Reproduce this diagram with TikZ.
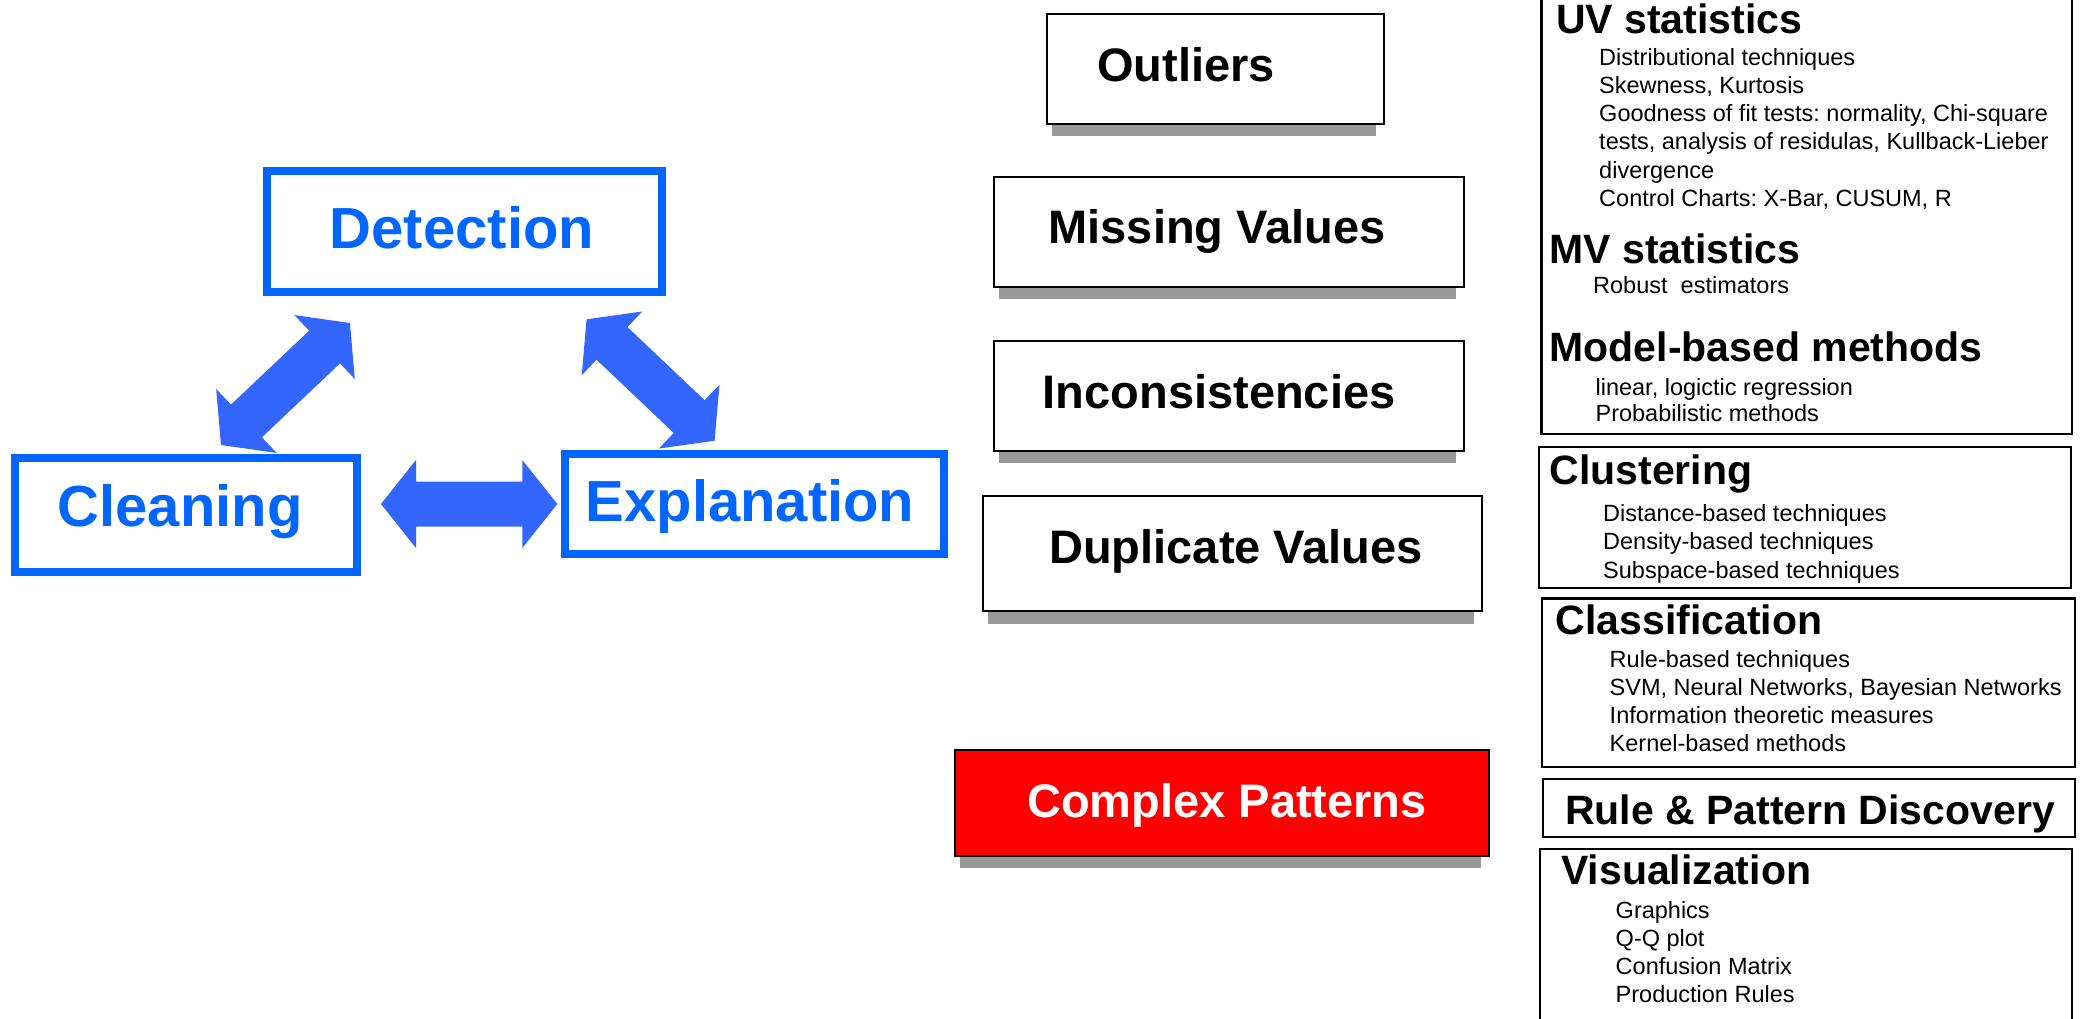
\documentclass[tikz,border=0pt]{standalone}
\usepackage{fontspec}
\setmainfont{Liberation Sans}
\usepackage{tikz}
\usetikzlibrary{calc}
\frenchspacing

\definecolor{boxblue}{HTML}{0066FF}
\definecolor{arrowblue}{HTML}{3366FF}
\definecolor{shadegray}{HTML}{999999}

\newcommand{\fatarrow}[2]{%
  \fill[arrowblue] (#1)
    -- ($(#1)!35pt!(#2)!44pt!90:(#2)$)
    -- ($(#1)!35pt!(#2)!22.5pt!90:(#2)$)
    -- ($(#2)!35pt!(#1)!22.5pt!-90:(#1)$)
    -- ($(#2)!35pt!(#1)!44pt!-90:(#1)$)
    -- (#2)
    -- ($(#2)!35pt!(#1)!44pt!90:(#1)$)
    -- ($(#2)!35pt!(#1)!22.5pt!90:(#1)$)
    -- ($(#1)!35pt!(#2)!22.5pt!-90:(#2)$)
    -- ($(#1)!35pt!(#2)!44pt!-90:(#2)$)
    -- cycle;}

\tikzset{
  bluebox/.style={draw=boxblue,line width=8pt,fill=white},
  bluelabel/.style={font=\fontsize{58}{58}\selectfont\bfseries,text=boxblue,anchor=base,inner sep=0pt},
  plainbox/.style={draw=black,line width=2pt,fill=white},
  redbox/.style={plainbox,fill=red},
  midlabel/.style={font=\fontsize{47}{47}\selectfont\bfseries,anchor=base,inner sep=0pt},
  rbox/.style={draw=black,line width=2.5pt},
  rhead/.style={font=\fontsize{41}{41}\selectfont\bfseries,anchor=base west,inner sep=0pt},
  rtext/.style={font=\fontsize{23.5}{23.5}\selectfont,anchor=base west,inner sep=0pt}
}

\begin{document}
\begin{tikzpicture}[x=1pt,y=-1pt]
    \path[use as bounding box,fill=white] (0,0) rectangle (2081,1018);

    \node[bluebox,minimum width=395pt,minimum height=121pt] (det) at (464.5,231.5) {};
    \node[bluelabel] (det-t) at (462,248.3) {Detection};
    \node[bluebox,minimum width=342pt,minimum height=114pt] (cln) at (186,515) {};
    \node[bluelabel] (cln-t) at (180,526.7) {Cleaning};
    \node[bluebox,minimum width=379pt,minimum height=100pt] (expl) at (754.5,504) {};
    \node[bluelabel] (expl-t) at (750,521.7) {Explanation};

    \coordinate (dc-a) at (350,323);
    \coordinate (dc-b) at (221,445);
    \coordinate (de-a) at (586.6,319.3);
    \coordinate (de-b) at (714.6,440.7);
    \coordinate (ce-a) at (381,504);
    \coordinate (ce-b) at (557.3,504);
    \fatarrow{dc-a}{dc-b}
    \fatarrow{de-a}{de-b}
    \fatarrow{ce-a}{ce-b}

    \node[plainbox,minimum width=337pt,minimum height=110pt] (outl) at (1215,68.5) {};
    \node[plainbox,minimum width=470pt,minimum height=109.5pt] (miss) at (1229,232.1) {};
    \node[plainbox,minimum width=470pt,minimum height=110pt] (inc) at (1229,395.9) {};
    \node[plainbox,minimum width=499.5pt,minimum height=115pt] (dup) at (1232.3,553.8) {};
    \node[redbox,minimum width=534.4pt,minimum height=105.4pt] (cpx) at (1221.8,803) {};
    \foreach \b in {outl,miss,inc,dup,cpx}
      \fill[shadegray] ([xshift=6pt]\b.south west) rectangle ([xshift=-9pt,yshift=-11.5pt]\b.south east);
    \node[midlabel] (outl-t) at (1186,81.5) {Outliers};
    \node[midlabel] (miss-t) at (1217,243) {Missing Values};
    \node[midlabel] (inc-t) at (1219,408.3) {Inconsistencies};
    \node[midlabel] (dup-t) at (1236,563) {Duplicate Values};
    \node[midlabel,text=white] (cpx-t) at (1227,817.7) {Complex Patterns};

    \node[rbox,minimum width=530.5pt,minimum height=437.5pt] (uv) at (1806.5,215) {};
    \node[rbox,minimum width=532.1pt,minimum height=141pt] (clu) at (1805.1,517.45) {};
    \node[rbox,minimum width=533pt,minimum height=168.3pt] (cls) at (1808.3,682.8) {};
    \node[rbox,minimum width=531.8pt,minimum height=58.1pt] (rp) at (1808.85,807.9) {};
    \node[rbox,minimum width=531.7pt,minimum height=179.9pt] (vis) at (1805.9,938.8) {};

    \node[rhead] (uv-h) at (1556,33.3) {UV statistics};
    \foreach \t [count=\i] in {Distributional techniques,{Skewness, Kurtosis},{Goodness of fit tests: normality, Chi-square},{tests, analysis of residulas, Kullback-Lieber},divergence,{Control Charts: X-Bar, CUSUM, R}}
      \node[rtext] (uv-\i) at (1599,37.5+28.1*\i) {\t};
    \node[rhead] (mv-h) at (1549.4,263.3) {MV statistics};
    \node[rtext] (mv-1) at (1593,293.3) {Robust\ \ estimators};
    \node[rhead] (mb-h) at (1549.4,361.7) {Model-based methods};
    \foreach \t [count=\i] in {{linear, logictic regression},Probabilistic methods}
      \node[rtext] (mb-\i) at (1595.4,368.3+26.7*\i) {\t};

    \node[rhead] (clu-h) at (1549.4,484.3) {Clustering};
    \foreach \t [count=\i] in {Distance-based techniques,Density-based techniques,Subspace-based techniques}
      \node[rtext] (clu-\i) at (1603,492.6+28.5*\i) {\t};

    \node[rhead] (cls-h) at (1555.4,634) {Classification};
    \foreach \t [count=\i] in {Rule-based techniques,{SVM, Neural Networks, Bayesian Networks},Information theoretic measures,Kernel-based methods}
      \node[rtext] (cls-\i) at (1609.5,638.9+28.1*\i) {\t};

    \node[rhead,anchor=base] (rp-t) at (1810,824.4) {Rule \& Pattern Discovery};

    \node[rhead] (vis-h) at (1561,884.3) {Visualization};
    \foreach \t [count=\i] in {Graphics,Q-Q plot,Confusion Matrix,Production Rules}
      \node[rtext] (vis-\i) at (1615.5,891+27.9*\i) {\t};
\end{tikzpicture}
\end{document}
